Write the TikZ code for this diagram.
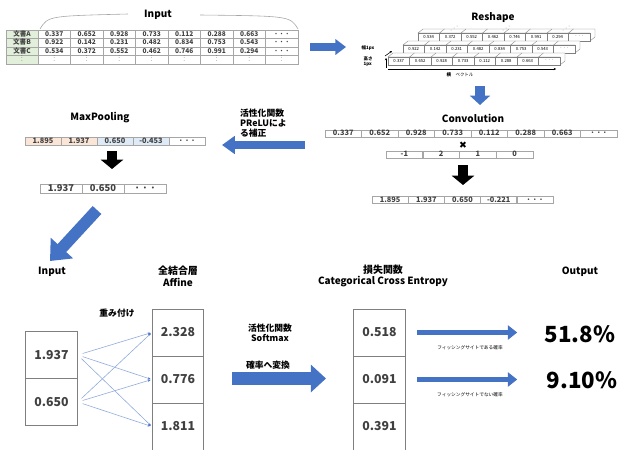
\documentclass[tikz,border=0pt]{standalone}
\usepackage{fontspec}
\setmainfont{Noto Sans CJK JP}
\newfontfamily\symfont{DejaVu Sans}
\usetikzlibrary{arrows.meta}
\definecolor{arrowblue}{HTML}{4472C4}
\definecolor{weightblue}{HTML}{8FAADC}
\definecolor{cellgreen}{HTML}{E2EFDA}
\definecolor{cellorange}{HTML}{FBE5D6}
\definecolor{cellblue}{HTML}{DEEBF7}
\definecolor{gridgray}{HTML}{A6A6A6}
\definecolor{boxgray}{HTML}{7F7F7F}
\definecolor{textgray}{HTML}{404040}
\tikzset{
  head/.style={font=\fontsize{8.5}{10}\selectfont\bfseries,align=center},
  note/.style={font=\fontsize{7.5}{8.5}\selectfont\bfseries,align=center},
  incell/.style={draw=gridgray,line width=0.4pt,inner sep=0pt,minimum width=0.975cm,
    minimum height=0.255cm,text height=3.6pt,text depth=0.6pt,
    text=textgray,font=\fontsize{5.6}{6}\selectfont\bfseries},
  rowcell/.style={draw=gridgray,line width=0.4pt,inner sep=0pt,minimum width=1.09cm,
    minimum height=0.22cm,text height=4.2pt,text depth=0.6pt,
    text=textgray,font=\fontsize{6.3}{7}\selectfont\bfseries},
  bigcell/.style={draw=boxgray,line width=0.6pt,inner sep=0pt,minimum width=1.55cm,
    minimum height=1.41cm,font=\fontsize{10.5}{12}\selectfont\bfseries,text=textgray},
  tinycell/.style={inner sep=0pt,font=\fontsize{3.6}{4}\selectfont},
  boxface/.style={draw=boxgray,fill=white,line width=0.3pt},
  boxside/.style={draw=boxgray,fill=white,line width=0.3pt},
  fatarrow/.style n args={3}{line width=#1,-{Triangle[length=#2,width=#3]}},
  blackarrow/.style={draw=black,fatarrow={8.5pt}{8pt}{19pt}},
}
% one bar of the reshaped input: name, dx, dy, values
\newcommand{\reshaperow}[4]{%
  \foreach \v [count=\i] in {#4} {
    \pgfmathsetmacro{\xa}{388+#2+21.5*(\i-1)}
    \pgfmathsetmacro{\ya}{57+#3}
    \filldraw[boxside] (\xa,\ya) -- ++(5,-4) -- ++(21.5,0) -- ++(0,8) -- ++(-5,4) -- ++(0,-8) -- cycle;
    \filldraw[boxface] (\xa,\ya) rectangle ++(21.5,8);
    \node[tinycell] (#1\i) at (\xa+10.75,\ya+4) {\v};
  }
}
\begin{document}
\begin{tikzpicture}[x=0.03cm,y=-0.03cm]
\useasboundingbox (0,0) rectangle (620,449);

% input table
\node[head] (intitle) at (158,15) {Input};
\coordinate (brl0) at (40,29); \coordinate (brl1) at (128,14);
\coordinate (brr0) at (200,15); \coordinate (brr1) at (298,29);
\draw[gridgray,line width=0.5pt] (brl0) .. controls (48,16) .. (brl1);
\draw[gridgray,line width=0.5pt] (brr0) .. controls (290,16) .. (brr1);
\node[incell,fill=cellgreen,minimum width=0.96cm] (docA) at (22,34.25) {文書A};
\node[incell,fill=cellgreen,minimum width=0.96cm] (docB) at (22,42.75) {文書B};
\node[incell,fill=cellgreen,minimum width=0.96cm] (docC) at (22,51.25) {文書C};
\node[incell,fill=cellgreen,minimum width=0.96cm] (docD) at (22,59.75) {\scalebox{0.55}{$\vdots$}};
\foreach \v [count=\i] in {0.337,0.652,0.928,0.733,0.112,0.288,0.663,· · ·}
  \node[incell] (a\i) at ({38+32.5*(\i-0.5)},34.25) {\v};
\foreach \v [count=\i] in {0.922,0.142,0.231,0.482,0.834,0.753,0.543,· · ·}
  \node[incell] (b\i) at ({38+32.5*(\i-0.5)},42.75) {\v};
\foreach \v [count=\i] in {0.534,0.372,0.552,0.462,0.746,0.991,0.294,· · ·}
  \node[incell] (c\i) at ({38+32.5*(\i-0.5)},51.25) {\v};
\foreach \i in {1,...,8}
  \node[incell] (d\i) at ({38+32.5*(\i-0.5)},59.75) {\scalebox{0.55}{$\vdots$}};

\coordinate (ar1s) at (310,47); \coordinate (ar1e) at (346,47);
\draw[arrowblue,fatarrow={6pt}{9pt}{13pt}] (ar1s) -- (ar1e);

% reshape
\node[head] (retitle) at (493,18) {Reshape};
\reshaperow{rc}{30}{-24}{0.534,0.372,0.552,0.462,0.746,0.991,0.294,· · ·}
\reshaperow{rb}{15}{-12}{0.922,0.142,0.231,0.482,0.834,0.753,0.543,· · ·}
\reshaperow{ra}{0}{0}{0.337,0.652,0.928,0.733,0.112,0.288,0.663,· · ·}
\foreach \x in {451,503,563}
  \foreach \k in {0,1,2}
    \fill[gridgray] (\x+3*\k,30-2*\k) circle (0.5);
\coordinate (hb) at (386,68); \coordinate (ht) at (386,58);
\coordinate (wb) at (385,56); \coordinate (wt) at (392,51);
\coordinate (vl) at (388,69); \coordinate (vr) at (556,69);
\draw[line width=0.5pt,-{Stealth[length=2pt,width=2pt]}] (hb) -- (ht);
\draw[line width=0.5pt,-{Stealth[length=2pt,width=2pt]}] (wb) -- (wt);
\draw[line width=0.4pt,-{Stealth[length=2pt,width=2pt]}] (vl) -- (vr);
\node[tinycell,font=\fontsize{3.8}{4.2}\selectfont\bfseries] (wlab) at (368,48) {幅1px};
\node[tinycell,align=left,font=\fontsize{3.8}{4.2}\selectfont\bfseries] (hlab) at (368,62) {高さ\\1px};
\node[tinycell,font=\fontsize{3.8}{4.2}\selectfont] (vlab) at (460,75) {\textbf{横}\quad ベクトル};

\coordinate (ar2s) at (480,86); \coordinate (ar2e) at (480,105);
\draw[arrowblue,fatarrow={8pt}{8pt}{17pt}] (ar2s) -- (ar2e);

% convolution
\node[head] (cvtitle) at (473,118) {Convolution};
\foreach \v [count=\i] in {0.337,0.652,0.928,0.733,0.112,0.288,0.663,· · ·}
  \node[rowcell] (cv\i) at ({325+36.5*(\i-0.5)},133.5) {\v};
\node[font=\symfont\fontsize{8}{8}\selectfont] (times) at (463,145) {✖};
\foreach \v [count=\i] in {-1,2,1,0}
  \node[rowcell,minimum width=1.1cm] (kn\i) at ({386+36.75*(\i-0.5)},154.5) {\v};
\coordinate (ar3s) at (463,165); \coordinate (ar3e) at (463,185);
\draw[blackarrow] (ar3s) -- (ar3e);
\foreach \v [count=\i] in {1.895,1.937,0.650,-0.221,· · ·}
  \node[rowcell,minimum width=1.08cm] (fm\i) at ({372+36.2*(\i-0.5)},200) {\v};

\coordinate (ar4s) at (305,145); \coordinate (ar4e) at (222,145);
\draw[arrowblue,fatarrow={7pt}{11pt}{15pt}] (ar4s) -- (ar4e);
\node[note,align=left,anchor=west] (prelu) at (236,123) {活性化関数\\PReLUによ\\る補正};

% max pooling
\node[head] (mptitle) at (100,118) {MaxPooling};
\foreach \v/\c [count=\i] in {1.895/cellorange,1.937/cellorange,0.650/cellblue,-0.453/cellblue,· · ·/white}
  \node[rowcell,fill=\c,minimum width=1.08cm,minimum height=0.24cm] (mp\i) at ({25+36*(\i-0.5)},141) {\v};
\coordinate (ar5s) at (112,151); \coordinate (ar5e) at (112,169);
\draw[blackarrow] (ar5s) -- (ar5e);
\foreach \v [count=\i] in {1.937,0.650,· · ·}
  \node[rowcell,minimum width=1.26cm,minimum height=0.27cm,text height=5.5pt,text depth=0.8pt,
    font=\fontsize{8}{9}\selectfont\bfseries] (po\i) at ({40+42*(\i-0.5)},189) {\v};

\coordinate (ar6s) at (97,210); \coordinate (ar6e) at (50,261);
\draw[arrowblue,fatarrow={10pt}{15pt}{25pt}] (ar6s) -- (ar6e);

% fully connected part
\node[head] (fctitle) at (52,272) {Input};
\node[head] (aftitle) at (178,276) {全結合層\\Affine};
\node[head] (lstitle) at (383,276) {損失関数\\Categorical Cross Entropy};
\node[head] (outtitle) at (580,272) {Output};
\node[note] (weight) at (117,313) {重み付け};

\node[bigcell] (in1) at (51.5,355) {1.937};
\node[bigcell] (in2) at (51.5,402) {0.650};
\node[bigcell] (af1) at (178,332.5) {2.328};
\node[bigcell] (af2) at (178,379.5) {0.776};
\node[bigcell] (af3) at (178,426.5) {1.811};
\foreach \s in {in1,in2}
  \foreach \t in {af1,af2,af3}
    \draw[weightblue,line width=0.5pt,shorten <=4.5pt,shorten >=1pt,
      -{Stealth[length=2.5pt,width=2pt,color=arrowblue]}] (\s.east) -- (\t.west);

\node[note] (softmax) at (270,333) {活性化関数\\Softmax};
\node[note] (prob) at (268,365) {確率へ変換};
\coordinate (ar7s) at (232,378.5); \coordinate (ar7e) at (326,378.5);
\draw[arrowblue,fatarrow={11pt}{13pt}{23pt}] (ar7s) -- (ar7e);

\node[bigcell] (ls1) at (379.5,332.5) {0.518};
\node[bigcell] (ls2) at (379.5,379.5) {0.091};
\node[bigcell] (ls3) at (379.5,426.5) {0.391};

\node[font=\fontsize{19}{20}\selectfont\bfseries] (pct1) at (580,334) {51.8\%};
\node[font=\fontsize{19}{20}\selectfont\bfseries] (pct2) at (582,380) {9.10\%};
\draw[arrowblue,fatarrow={5pt}{8pt}{12pt},shorten <=10pt,shorten >=20pt]
  (ls1.east) -- (ls1.east -| pct1.west);
\draw[arrowblue,fatarrow={5pt}{8pt}{12pt},shorten <=10pt,shorten >=20pt]
  (ls2.east) -- (ls2.east -| pct1.west);
\node[tinycell,font=\fontsize{4}{4.5}\selectfont] (phish) at (470,348) {フィッシングサイトである確率};
\node[tinycell,font=\fontsize{4}{4.5}\selectfont] (nophish) at (470,395) {フィッシングサイトでない確率};
\end{tikzpicture}
\end{document}
